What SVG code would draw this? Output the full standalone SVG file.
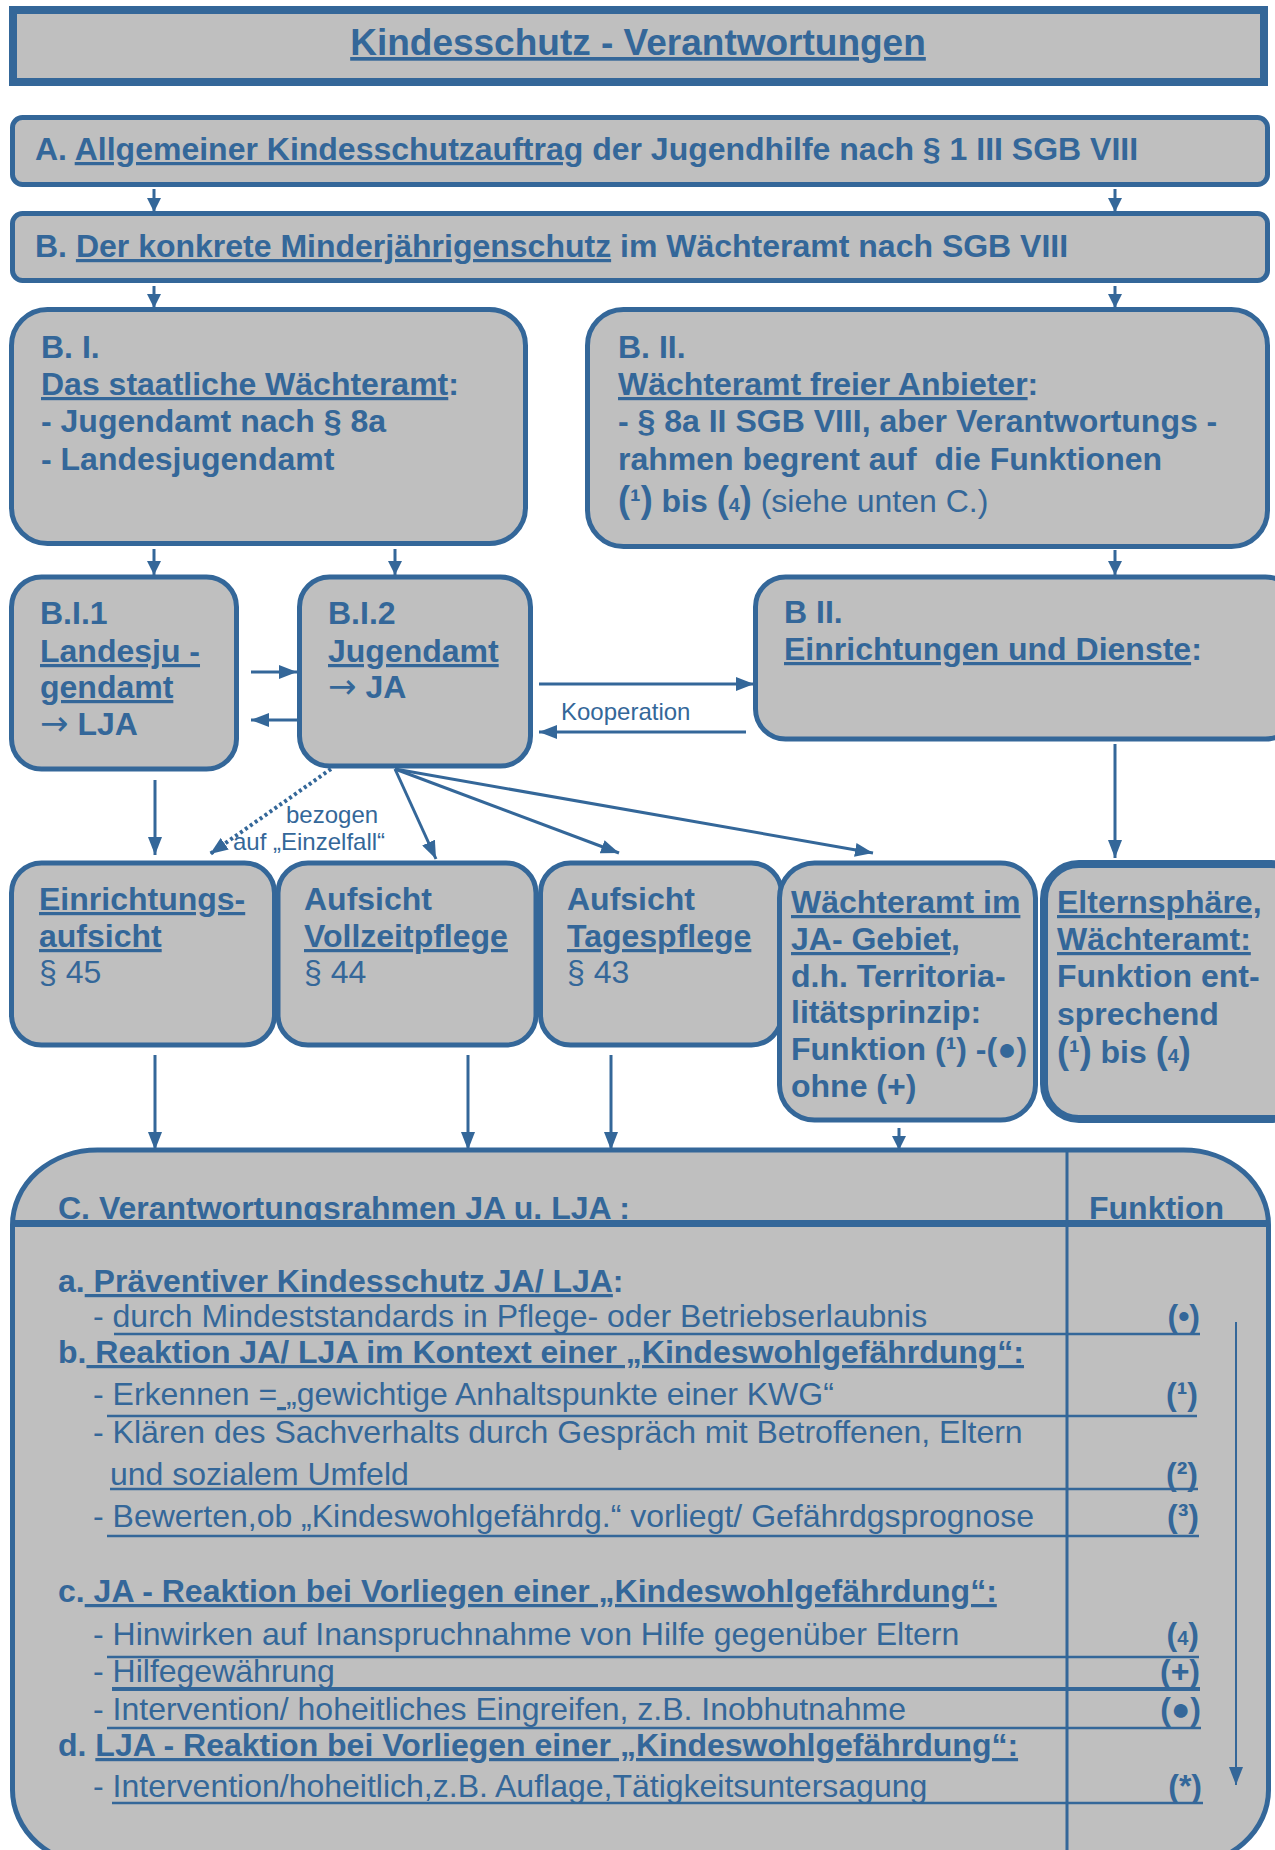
<svg xmlns="http://www.w3.org/2000/svg" width="1275" height="1850" viewBox="0 0 1275 1850">
  <style>
    .box { fill: #BFBFBF; stroke: #346799; stroke-width: 5; }
    .t { font-family: "Liberation Sans", Arial, sans-serif; fill: #346799; font-size: 32px; }
    .b { font-weight: bold; }
    .n { font-weight: normal; }
    .u { text-decoration: underline; }
    .arr { font-family: "DejaVu Sans", sans-serif; font-weight: normal; font-size: 34px; }
    .sm { font-size: 24px; }
    .conn { stroke: #346799; stroke-width: 3; fill: none; }
    .rule { stroke: #346799; stroke-width: 2.5; }
  </style>
  <defs>
    <marker id="ah" viewBox="0 0 10 10" refX="10" refY="5" markerWidth="14" markerHeight="14" markerUnits="userSpaceOnUse" orient="auto">
      <path d="M0,0 L10,5 L0,10 z" fill="#346799"/>
    </marker>
    <marker id="ahl" viewBox="0 0 10 10" refX="10" refY="5" markerWidth="18" markerHeight="14" markerUnits="userSpaceOnUse" orient="auto" preserveAspectRatio="none">
      <path d="M0,0 L10,5 L0,10 z" fill="#346799"/>
    </marker>
  </defs>

  <!-- Title -->
  <g id="title">
    <rect x="13" y="10" width="1251" height="72" fill="#BFBFBF" stroke="#346799" stroke-width="8"/>
    <text x="638" y="55" text-anchor="middle" class="t b u" style="font-size:37px">Kindesschutz - Verantwortungen</text>
  </g>

  <!-- A -->
  <g id="node-a">
    <rect class="box" x="12.5" y="117.5" width="1255" height="67" rx="10"/>
    <text x="35" y="160" class="t b">A. <tspan class="u">Allgemeiner Kindesschutzauftrag</tspan> der Jugendhilfe nach § 1 III SGB VIII</text>
  </g>

  <!-- B -->
  <g id="node-b">
    <rect class="box" x="12.5" y="213.5" width="1255" height="67" rx="10"/>
    <text x="35" y="257" class="t b">B. <tspan class="u">Der konkrete Minderjährigenschutz</tspan> im Wächteramt nach SGB VIII</text>
  </g>

  <!-- B.I -->
  <g id="node-bi">
    <rect class="box" x="11.5" y="309.5" width="514" height="234" rx="36"/>
    <text class="t b">
      <tspan x="41" y="358">B. I.</tspan>
      <tspan x="41" y="395"><tspan class="u">Das staatliche Wächteramt</tspan>:</tspan>
      <tspan x="41" y="432">- Jugendamt nach § 8a</tspan>
      <tspan x="41" y="470">- Landesjugendamt</tspan>
    </text>
  </g>

  <!-- B.II -->
  <g id="node-bii">
    <rect class="box" x="587.5" y="309.5" width="680" height="237" rx="36"/>
    <text class="t b">
      <tspan x="618" y="358">B. II.</tspan>
      <tspan x="618" y="395"><tspan class="u">Wächteramt freier Anbieter</tspan>:</tspan>
      <tspan x="618" y="432">- § 8a II SGB VIII, aber Verantwortungs -</tspan>
      <tspan x="618" y="470">rahmen begrent auf&#160; die Funktionen</tspan>
      <tspan x="618" y="512"><tspan style="font-size:36px">(</tspan>¹<tspan style="font-size:36px">)</tspan> bis <tspan style="font-size:36px">(</tspan><tspan style="font-size:20px">4</tspan><tspan style="font-size:36px">)</tspan> <tspan class="n">(siehe unten C.)</tspan></tspan>
    </text>
  </g>

  <!-- B.I.1 -->
  <g id="node-bi1">
    <rect class="box" x="11.5" y="577" width="225" height="192" rx="30"/>
    <text class="t b">
      <tspan x="40" y="624">B.I.1</tspan>
      <tspan x="40" y="662" class="u">Landesju -</tspan>
      <tspan x="40" y="698" class="u">gendamt</tspan>
      <tspan x="40" y="735"><tspan class="arr">→</tspan> LJA</tspan>
    </text>
  </g>

  <!-- B.I.2 -->
  <g id="node-bi2">
    <rect class="box" x="299.5" y="577" width="231" height="189" rx="30"/>
    <text class="t b">
      <tspan x="328" y="624">B.I.2</tspan>
      <tspan x="328" y="662" class="u">Jugendamt</tspan>
      <tspan x="328" y="698"><tspan class="arr">→</tspan> JA</tspan>
    </text>
  </g>

  <!-- B II Einrichtungen und Dienste -->
  <g id="node-bii-einr">
    <rect class="box" x="755.5" y="577" width="540" height="162" rx="30"/>
    <text class="t b">
      <tspan x="784" y="623">B II.</tspan>
      <tspan x="784" y="660"><tspan class="u">Einrichtungen und Dienste</tspan>:</tspan>
    </text>
  </g>

  <!-- Row of supervision boxes -->
  <g id="node-einrichtungsaufsicht">
    <rect class="box" x="11.5" y="863" width="263" height="182" rx="30"/>
    <text class="t b">
      <tspan x="39" y="910" class="u">Einrichtungs-</tspan>
      <tspan x="39" y="947" class="u">aufsicht</tspan>
      <tspan x="39" y="983" class="n">§ 45</tspan>
    </text>
  </g>
  <g id="node-vollzeitpflege">
    <rect class="box" x="278" y="863" width="258" height="182" rx="30"/>
    <text class="t b">
      <tspan x="304" y="910">Aufsicht</tspan>
      <tspan x="304" y="947" class="u">Vollzeitpflege</tspan>
      <tspan x="304" y="983" class="n">§ 44</tspan>
    </text>
  </g>
  <g id="node-tagespflege">
    <rect class="box" x="540.5" y="863" width="241" height="182" rx="30"/>
    <text class="t b">
      <tspan x="567" y="910">Aufsicht</tspan>
      <tspan x="567" y="947" class="u">Tagespflege</tspan>
      <tspan x="567" y="983" class="n">§ 43</tspan>
    </text>
  </g>
  <g id="node-waechteramt-ja">
    <rect class="box" x="779.5" y="863" width="256" height="257" rx="35"/>
    <text class="t b">
      <tspan x="791" y="913" class="u">Wächteramt im</tspan>
      <tspan x="791" y="950" class="u">JA- Gebiet,</tspan>
      <tspan x="791" y="987">d.h. Territoria-</tspan>
      <tspan x="791" y="1023">litätsprinzip:</tspan>
      <tspan x="791" y="1060">Funktion (¹) -(●)</tspan>
      <tspan x="791" y="1097">ohne (+)</tspan>
    </text>
  </g>
  <g id="node-elternsphaere">
    <rect x="1044" y="864" width="262" height="255" rx="35" fill="#BFBFBF" stroke="#346799" stroke-width="8"/>
    <text class="t b">
      <tspan x="1057" y="913" class="u">Elternsphäre,</tspan>
      <tspan x="1057" y="950" class="u">Wächteramt:</tspan>
      <tspan x="1057" y="987">Funktion ent-</tspan>
      <tspan x="1057" y="1025">sprechend</tspan>
      <tspan x="1057" y="1063"><tspan style="font-size:36px">(</tspan>¹<tspan style="font-size:36px">)</tspan> bis <tspan style="font-size:36px">(</tspan><tspan style="font-size:20px">4</tspan><tspan style="font-size:36px">)</tspan></tspan>
    </text>
  </g>

  <!-- C: responsibility frame -->
  <g id="node-c">
    <rect class="box" x="12.5" y="1150" width="1256" height="715" rx="85" ry="75"/>
    <text x="58" y="1219" class="t b">C. Verantwortungsrahmen JA u. LJA :</text>
    <text x="1089" y="1219" class="t b">Funktion</text>
    <rect x="12" y="1220" width="1258" height="7" fill="#346799"/>
    <line x1="1067" y1="1150" x2="1067" y2="1866" stroke="#346799" stroke-width="3"/>

    <!-- a -->
    <text x="58" y="1292" class="t b">a.<tspan class="u"> Präventiver Kindesschutz JA/ LJA</tspan>:</text>
    <text x="93" y="1327" class="t">- durch Mindeststandards in Pflege- oder Betriebserlaubnis</text>
    <line class="rule" x1="114" y1="1334" x2="1200" y2="1334"/>
    <text x="1200" y="1327" class="t b" text-anchor="end">(•)</text>

    <!-- b -->
    <text x="58" y="1363" class="t b">b.<tspan class="u"> Reaktion JA/ LJA im Kontext einer „Kindeswohlgefährdung“:</tspan></text>
    <text x="93" y="1405" class="t">- Erkennen =<tspan class="u"> </tspan>„gewichtige Anhaltspunkte einer KWG“</text>
    <line class="rule" x1="107" y1="1416" x2="1197" y2="1416"/>
    <text x="1198" y="1405" class="t b" text-anchor="end">(¹)</text>
    <text x="93" y="1443" class="t">- Klären des Sachverhalts durch Gespräch mit Betroffenen, Eltern</text>
    <text x="110" y="1485" class="t">und sozialem Umfeld</text>
    <line class="rule" x1="110" y1="1489" x2="1198" y2="1489"/>
    <text x="1198" y="1485" class="t b" text-anchor="end">(²)</text>
    <text x="93" y="1527" class="t">- Bewerten,ob „Kindeswohlgefährdg.“ vorliegt/ Gefährdgsprognose</text>
    <line class="rule" x1="107" y1="1536" x2="1199" y2="1536"/>
    <text x="1199" y="1527" class="t b" text-anchor="end">(³)</text>

    <!-- c -->
    <text x="58" y="1602" class="t b">c.<tspan class="u"> JA - Reaktion bei Vorliegen einer „Kindeswohlgefährdung“:</tspan></text>
    <text x="93" y="1645" class="t">- Hinwirken auf Inanspruchnahme von Hilfe gegenüber Eltern</text>
    <line class="rule" x1="107" y1="1657" x2="1199" y2="1657"/>
    <text x="1199" y="1645" class="t b" text-anchor="end">(<tspan style="font-size:20px">4</tspan>)</text>
    <text x="93" y="1682" class="t">- Hilfegewährung</text>
    <line class="rule" x1="112" y1="1689" x2="1200" y2="1689" style="stroke-width:4"/>
    <text x="1200" y="1682" class="t b" text-anchor="end">(+)</text>
    <text x="93" y="1720" class="t">- Intervention/ hoheitliches Eingreifen, z.B. Inobhutnahme</text>
    <line class="rule" x1="107" y1="1728" x2="1201" y2="1728"/>
    <text x="1201" y="1720" class="t b" text-anchor="end">(●)</text>

    <!-- d -->
    <text x="58" y="1756" class="t b">d. <tspan class="u">LJA - Reaktion bei Vorliegen einer „Kindeswohlgefährdung“:</tspan></text>
    <text x="93" y="1797" class="t">- Intervention/hoheitlich,z.B. Auflage,Tätigkeitsuntersagung</text>
    <line class="rule" x1="112" y1="1803" x2="1203" y2="1803"/>
    <text x="1202" y="1797" class="t b" text-anchor="end">(*)</text>
  </g>

  <!-- Connectors -->
  <g id="connectors">
    <line class="conn" x1="154" y1="189" x2="154" y2="212" marker-end="url(#ah)"/>
    <line class="conn" x1="1115" y1="189" x2="1115" y2="212" marker-end="url(#ah)"/>
    <line class="conn" x1="154" y1="286" x2="154" y2="308" marker-end="url(#ah)"/>
    <line class="conn" x1="1115" y1="286" x2="1115" y2="308" marker-end="url(#ah)"/>
    <line class="conn" x1="154" y1="549" x2="154" y2="575" marker-end="url(#ah)"/>
    <line class="conn" x1="395" y1="549" x2="395" y2="575" marker-end="url(#ah)"/>
    <line class="conn" x1="1115" y1="550" x2="1115" y2="575" marker-end="url(#ah)"/>

    <line class="conn" x1="251" y1="672" x2="297" y2="672" marker-end="url(#ahl)"/>
    <line class="conn" x1="297" y1="720" x2="251" y2="720" marker-end="url(#ahl)"/>
    <line class="conn" x1="539" y1="684" x2="754" y2="684" marker-end="url(#ahl)"/>
    <line class="conn" x1="746" y1="732" x2="539" y2="732" marker-end="url(#ahl)"/>
    <text x="561" y="720" class="t sm">Kooperation</text>

    <line class="conn" x1="155" y1="780" x2="155" y2="855" marker-end="url(#ahl)"/>
    <line x1="331" y1="769" x2="210" y2="854" stroke="#346799" stroke-width="4" stroke-dasharray="3 3" marker-end="url(#ahl)"/>
    <text x="286" y="823" class="t sm">bezogen</text>
    <text x="233" y="850" class="t sm">auf „Einzelfall“</text>
    <line class="conn" x1="395" y1="769" x2="436" y2="859" marker-end="url(#ahl)"/>
    <line class="conn" x1="395" y1="769" x2="619" y2="853" marker-end="url(#ahl)"/>
    <line class="conn" x1="395" y1="769" x2="873" y2="853" marker-end="url(#ahl)"/>
    <line class="conn" x1="1115" y1="744" x2="1115" y2="858" marker-end="url(#ahl)"/>

    <line class="conn" x1="155" y1="1055" x2="155" y2="1150" marker-end="url(#ahl)"/>
    <line class="conn" x1="468" y1="1055" x2="468" y2="1150" marker-end="url(#ahl)"/>
    <line class="conn" x1="611" y1="1055" x2="611" y2="1150" marker-end="url(#ahl)"/>
    <line class="conn" x1="899" y1="1128" x2="899" y2="1150" marker-end="url(#ah)"/>

    <line x1="1236" y1="1322" x2="1236" y2="1785" stroke="#346799" stroke-width="2" marker-end="url(#ahl)"/>
  </g>
</svg>
